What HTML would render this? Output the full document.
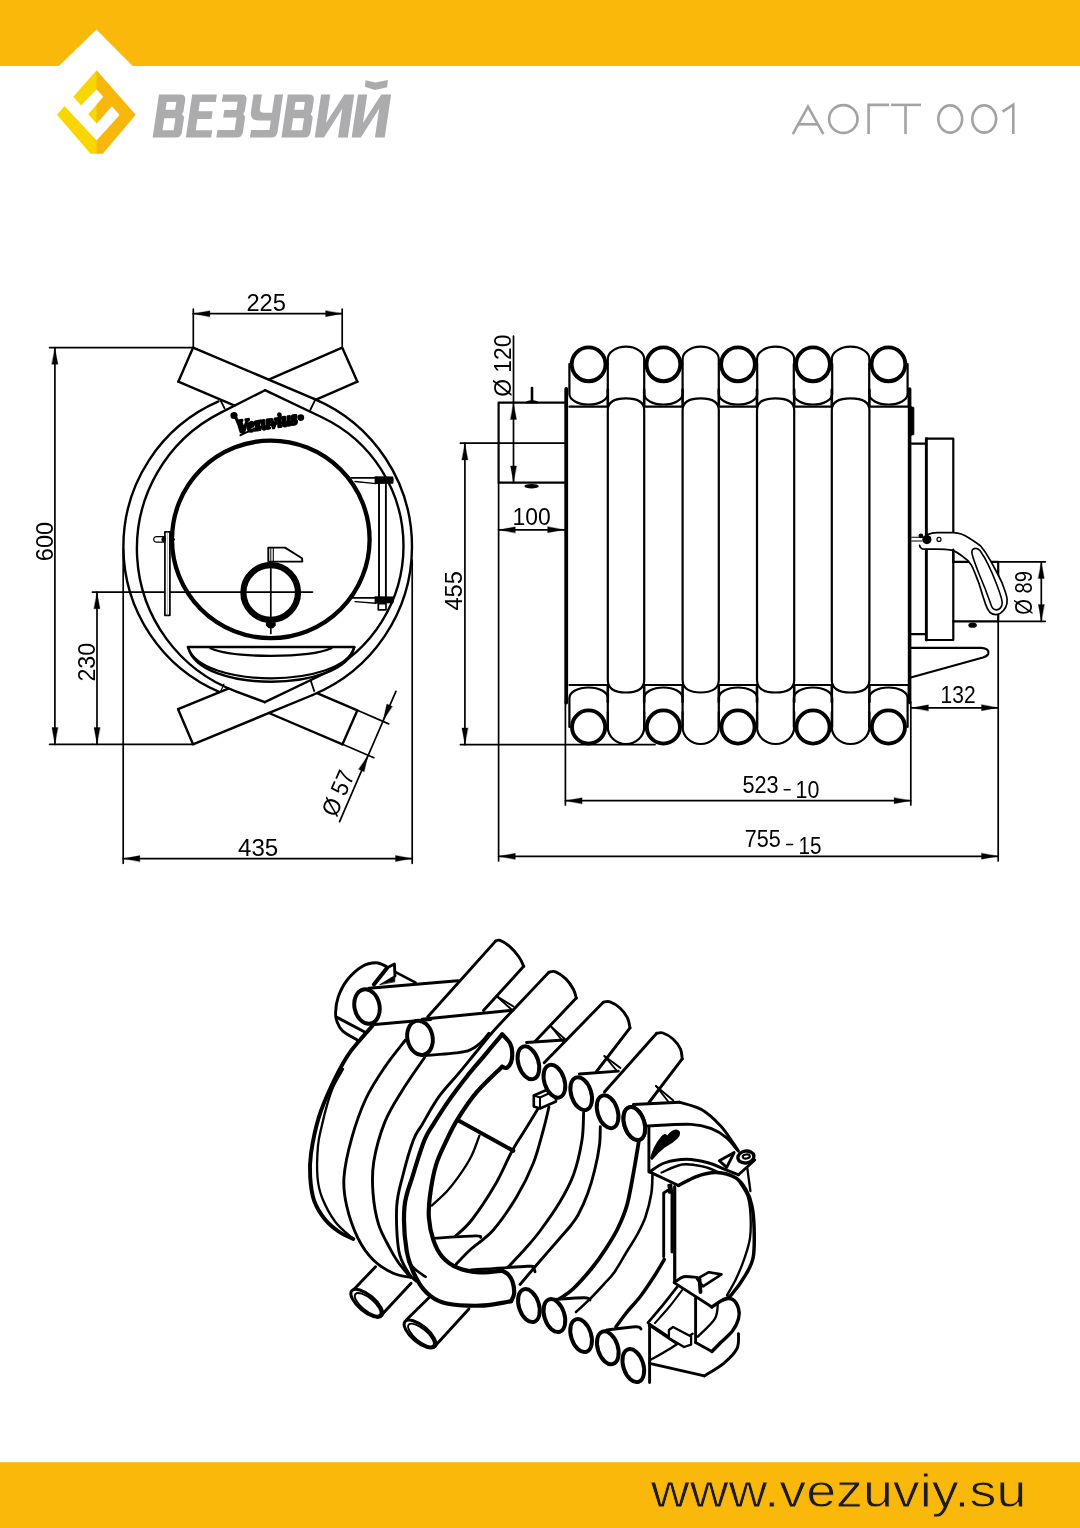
<!DOCTYPE html>
<html><head><meta charset="utf-8"><title>АОГТ 001</title>
<style>html,body{margin:0;padding:0;background:#fff;}body{width:1080px;height:1528px;overflow:hidden;position:relative;font-family:"Liberation Sans",sans-serif;}svg{position:absolute;left:0;top:0;display:block;}svg{will-change:transform}</style>
</head><body>
<svg width="1080" height="1528" viewBox="0 0 1080 1528" stroke-linecap="round" stroke-linejoin="round">
<rect x="0" y="0" width="1080" height="1528" fill="#fff"/>
<rect x="0" y="0" width="1080" height="66.0" fill="#FAB80B"/>
<path d="M58.40,66.50 L96.40,29.60 L133.20,66.50 Z" fill="#fff" stroke="none" />
<defs><clipPath id="cl"><rect x="40" y="60" width="57.1" height="100"/></clipPath><clipPath id="cr"><rect x="96.6" y="60" width="50" height="100"/></clipPath></defs>
<path d="M96.60,70.30 L135.75,114.70 L102.80,153.80 L90.50,153.80 L57.00,114.70 L64.50,105.90 L96.60,140.60 L119.50,115.10 L112.00,106.30 L96.60,123.50 L88.30,114.30 L103.20,96.70 L96.60,89.20 L81.20,105.50 L73.30,96.70 Z" fill="#FAD600" clip-path="url(#cl)"/>
<path d="M96.60,70.30 L135.75,114.70 L102.80,153.80 L90.50,153.80 L57.00,114.70 L64.50,105.90 L96.60,140.60 L119.50,115.10 L112.00,106.30 L96.60,123.50 L88.30,114.30 L103.20,96.70 L96.60,89.20 L81.20,105.50 L73.30,96.70 Z" fill="#F8B70A" clip-path="url(#cr)"/>
<path transform="translate(159.0,94.6) skewX(-8.43)" d="M0,0 H21.5 Q27.0,0 27.0,5.5 V17 L25.9,19.6 L28.5,22.4 V37.5 Q28.5,43.0 23.0,43.0 H0 Z M8.8,7.4 V15.2 H18.4 V7.4 Z M8.8,23.6 V35.6 H19.9 V23.6 Z" fill="#ACACAE" fill-rule="evenodd"/>
<path transform="translate(192.2,94.6) skewX(-8.43)" d="M0,0 H24.7 V7.4 H8.8 V16.6 H22.9 V24.4 H8.8 V35.6 H25.3 V43.0 H0 Z" fill="#ACACAE" fill-rule="evenodd"/>
<path transform="translate(223.0,94.6) skewX(-8.43)" d="M0,0 H18.8 Q24.3,0 24.3,5.5 V16.5 L23.1,19.4 L25.5,22.4 V37.5 Q25.5,43.0 20.0,43.0 H-0.3 V35.5 H16.9 V23.0 H3.6 V15.4 H15.700000000000001 V7.2 H0 Z" fill="#ACACAE" fill-rule="evenodd"/>
<path transform="translate(253.5,94.6) skewX(-8.43)" d="M0,0 H8.4 V13.5 Q8.4,18.2 13,18.2 H21.200000000000003 V0 H29.6 V37.5 Q29.6,43.0 24.1,43.0 H2.8 V35.4 H21.200000000000003 V26 H9.5 Q0,26 0,16.5 Z" fill="#ACACAE" fill-rule="evenodd"/>
<path transform="translate(287.8,94.6) skewX(-8.43)" d="M0,0 H21.3 Q26.8,0 26.8,5.5 V17 L25.7,19.6 L28.3,22.4 V37.5 Q28.3,43.0 22.8,43.0 H0 Z M8.8,7.4 V15.2 H18.200000000000003 V7.4 Z M8.8,23.6 V35.6 H19.700000000000003 V23.6 Z" fill="#ACACAE" fill-rule="evenodd"/>
<path transform="translate(321.1,94.6) skewX(-8.43)" d="M0,0 H9.2 V28.5 L23.3,0 H33.1 V43.0 H23.3 V14 L9.2,43.0 H0 Z" fill="#ACACAE" fill-rule="evenodd"/>
<path transform="translate(358.0,94.6) skewX(-8.43)" d="M0,0 H9.2 V28.5 L23.3,0 H33.1 V43.0 H23.3 V14 L9.2,43.0 H0 Z" fill="#ACACAE" fill-rule="evenodd"/>
<path d="M365.6,80.2 L375.5,82.6 L387.8,80.0 L387.2,87.2 L374.8,90.0 L364.8,86.8 Z" fill="#ACACAE"/>
<path d="M792.80,134.10 L808.00,106.60 L823.40,134.10" fill="none" stroke="#A3A3A3" stroke-width="2.6" stroke-linecap="butt" stroke-linejoin="miter"/>
<line x1="797.50" y1="124.30" x2="818.60" y2="124.30" stroke="#A3A3A3" stroke-width="2.6" stroke-linecap="butt" stroke-linejoin="miter"/>
<ellipse cx="843.30" cy="119.00" rx="14.20" ry="13.90" fill="none" stroke="#A3A3A3" stroke-width="2.6" />
<path d="M868.60,134.10 L868.60,104.90 L889.00,104.90" fill="none" stroke="#A3A3A3" stroke-width="2.6" stroke-linecap="butt" stroke-linejoin="miter"/>
<line x1="891.10" y1="104.90" x2="921.00" y2="104.90" stroke="#A3A3A3" stroke-width="2.6" stroke-linecap="butt" stroke-linejoin="miter"/>
<line x1="905.50" y1="104.90" x2="905.50" y2="134.10" stroke="#A3A3A3" stroke-width="2.6" stroke-linecap="butt" stroke-linejoin="miter"/>
<ellipse cx="950.20" cy="119.00" rx="11.90" ry="13.60" fill="none" stroke="#A3A3A3" stroke-width="2.6" />
<ellipse cx="984.20" cy="119.00" rx="11.90" ry="13.60" fill="none" stroke="#A3A3A3" stroke-width="2.6" />
<path d="M1002.60,111.60 L1013.30,104.60 L1013.30,134.10" fill="none" stroke="#A3A3A3" stroke-width="2.6" stroke-linecap="butt" stroke-linejoin="miter"/>
<rect x="0" y="1462.2" width="1080" height="66" fill="#FAB80B"/>
<text transform="translate(650.80,1507.00) rotate(0)" x="0" y="0" font-family="Liberation Sans" font-size="46.6" font-weight="normal" font-style="normal" text-anchor="start" fill="#1b1b20" textLength="375.50" lengthAdjust="spacingAndGlyphs" stroke="#FAB80B" stroke-width="0.8">www.vezuviy.su</text>
<path d="M357.40,381.70 L342.20,347.60 L268.69,379.59" fill="none" stroke="#000" stroke-width="2.4" />
<line x1="357.40" y1="381.70" x2="316.10" y2="399.67" stroke="#000" stroke-width="2.4" />
<path d="M178.30,381.70 L193.10,347.60 L314.06,398.79" fill="none" stroke="#000" stroke-width="2.4" />
<line x1="178.30" y1="381.70" x2="234.70" y2="405.57" stroke="#000" stroke-width="2.4" />
<path d="M342.50,744.30 L357.40,710.30 L317.00,693.12" fill="none" stroke="#000" stroke-width="2.4" />
<line x1="342.50" y1="744.30" x2="268.92" y2="713.01" stroke="#000" stroke-width="2.4" />
<path d="M178.10,709.20 L193.00,744.30 L312.65,694.99" fill="none" stroke="#000" stroke-width="2.4" />
<line x1="178.10" y1="709.20" x2="228.29" y2="688.52" stroke="#000" stroke-width="2.4" />
<path d="M314.06,398.79 A160.50,160.50 0 0 1 312.65,694.99" fill="none" stroke="#000" stroke-width="2.4" />
<path d="M218.48,401.44 A158.20,158.20 0 0 0 219.70,692.09" fill="none" stroke="#000" stroke-width="2.4" />
<path d="M265.00,390.20 L322.38,417.52 A142.30,142.30 0 0 1 322.93,674.21 L264.80,702.20" fill="none" stroke="#000" stroke-width="2.4" />
<path d="M265.00,390.20 L220.30,412.88 A152.30,152.30 0 0 0 235.75,691.31 L264.80,702.20" fill="none" stroke="#000" stroke-width="2.4" />
<line x1="220.70" y1="400.60" x2="224.60" y2="408.30" stroke="#000" stroke-width="1.8" />
<line x1="315.40" y1="399.40" x2="309.80" y2="411.00" stroke="#000" stroke-width="1.8" />
<line x1="221.00" y1="690.80" x2="223.90" y2="684.00" stroke="#000" stroke-width="1.2" />
<line x1="314.20" y1="691.00" x2="310.80" y2="680.80" stroke="#000" stroke-width="1.8" />
<circle cx="270.80" cy="539.40" r="98.80" fill="none" stroke="#000" stroke-width="4.3"/>
<circle cx="270.70" cy="592.50" r="27.30" fill="none" stroke="#000" stroke-width="6.2"/>
<line x1="92.40" y1="592.10" x2="312.50" y2="592.10" stroke="#000" stroke-width="1.7" />
<line x1="270.80" y1="547.50" x2="270.80" y2="633.50" stroke="#000" stroke-width="1.7" />
<path d="M268.30,547.60 L285.00,547.60 L302.00,558.20 L302.30,561.60 L268.30,561.60 Z" fill="#fff" stroke="#000" stroke-width="1.9" />
<line x1="273.30" y1="547.60" x2="273.30" y2="561.60" stroke="#000" stroke-width="1.1" />
<line x1="270.80" y1="547.60" x2="270.80" y2="561.60" stroke="#000" stroke-width="1.0" />
<path d="M266.0,622.3 L275.6,622.3 L275.8,625.5 L273.0,628.3 L268.6,628.3 L265.8,625.5 Z" fill="#000" stroke="none" />
<path d="M164.9,531.9 L169.9,531.9 L169.9,615.3 L164.9,615.3 Z" fill="#fff" stroke="#000" stroke-width="1.7" />
<line x1="167.40" y1="532.00" x2="167.40" y2="615.00" stroke="#888" stroke-width="0.6" />
<path d="M156.5,536.6 a2.8,2.8 0 1 0 0,5.6 L164.9,542.2 L164.9,536.6 Z" fill="#fff" stroke="#000" stroke-width="1.2" />
<ellipse cx="163.6" cy="539.4" rx="2.2" ry="2.6" fill="#000"/>
<ellipse cx="172.5" cy="539.4" rx="2.6" ry="1.3" fill="#000"/>
<line x1="351.50" y1="477.90" x2="376.00" y2="477.90" stroke="#000" stroke-width="1.8" />
<path d="M374.6,476.3 L393.2,476.6 Q394.2,480.2 393.2,483.8 L374.6,484.1 Z" fill="#000" stroke="none" />
<path d="M355,481.5 L376,483.6" fill="none" stroke="#000" stroke-width="1.4" />
<line x1="351.50" y1="597.90" x2="376.00" y2="597.90" stroke="#000" stroke-width="1.8" />
<path d="M374.6,596.2 L393.4,596.5 Q394.4,599.9 393.4,603.3 L374.6,603.6 Z" fill="#000" stroke="none" />
<path d="M355,601.6 L376,603.2" fill="none" stroke="#000" stroke-width="1.4" />
<line x1="379.00" y1="484.00" x2="379.00" y2="596.70" stroke="#000" stroke-width="1.9" />
<line x1="385.90" y1="484.00" x2="385.90" y2="596.70" stroke="#000" stroke-width="1.9" />
<path d="M378.3,603.6 L386,603.6 L386,609.8 L378.3,609.8 Z" fill="#fff" stroke="#000" stroke-width="1.7" />
<path d="M187.9,647.0 L354.2,647.0" fill="none" stroke="#000" stroke-width="2.6" />
<path d="M210.6,648.3 C232,658.3 309,658.3 331.3,648.3" fill="none" stroke="#000" stroke-width="2.3" />
<path d="M188.2,647.4 C200,688.6 342,688.6 354.2,647.4" fill="none" stroke="#000" stroke-width="2.2" />
<path d="M188.2,647.4 C199,693.2 343,693.2 354.2,647.4" fill="none" stroke="#000" stroke-width="2.4" />
<text transform="translate(268.50,428.50) rotate(-9)" x="0" y="0" font-family="Liberation Serif" font-size="19" font-weight="bold" font-style="italic" text-anchor="middle" fill="#000" textLength="60.00" lengthAdjust="spacingAndGlyphs" stroke="#000" stroke-width="2.6" stroke-linejoin="round">Vezuvius</text>
<circle cx="234.00" cy="415.50" r="3.60" fill="#000" />
<circle cx="300.80" cy="417.60" r="3.40" fill="#000" />
<path d="M240.5,435.2 Q262,424.5 292,421.2" fill="none" stroke="#000" stroke-width="2.0" />
<path d="M236,418 Q239,424 241,432" fill="none" stroke="#000" stroke-width="3.0" />
<line x1="193.30" y1="309.00" x2="193.30" y2="347.60" stroke="#000" stroke-width="1.7" />
<line x1="342.20" y1="309.00" x2="342.20" y2="347.60" stroke="#000" stroke-width="1.7" />
<line x1="193.30" y1="313.70" x2="342.20" y2="313.70" stroke="#000" stroke-width="1.7" />
<path d="M193.60,313.70 L209.90,310.70 L209.90,316.70 Z" fill="#000" stroke="#000" stroke-width="0.3" />
<path d="M341.90,313.70 L325.60,316.70 L325.60,310.70 Z" fill="#000" stroke="#000" stroke-width="0.3" />
<text transform="translate(246.40,311.00) rotate(0)" x="0" y="0" font-family="Liberation Sans" font-size="24.3" font-weight="normal" font-style="normal" text-anchor="start" fill="#000" textLength="39.60" lengthAdjust="spacingAndGlyphs" >225</text>
<line x1="49.60" y1="347.60" x2="193.10" y2="347.60" stroke="#000" stroke-width="1.7" />
<line x1="49.60" y1="744.30" x2="193.00" y2="744.30" stroke="#000" stroke-width="1.7" />
<line x1="54.90" y1="347.60" x2="54.90" y2="744.30" stroke="#000" stroke-width="1.7" />
<path d="M54.90,348.00 L57.90,364.30 L51.90,364.30 Z" fill="#000" stroke="#000" stroke-width="0.3" />
<path d="M54.90,743.90 L51.90,727.60 L57.90,727.60 Z" fill="#000" stroke="#000" stroke-width="0.3" />
<text transform="translate(52.60,561.20) rotate(-90)" x="0" y="0" font-family="Liberation Sans" font-size="24.3" font-weight="normal" font-style="normal" text-anchor="start" fill="#000" textLength="39.40" lengthAdjust="spacingAndGlyphs" >600</text>
<line x1="92.40" y1="744.30" x2="92.40" y2="744.30" stroke="#000" stroke-width="1.7" />
<line x1="97.00" y1="592.10" x2="97.00" y2="744.30" stroke="#000" stroke-width="1.7" />
<path d="M97.00,592.50 L100.00,608.80 L94.00,608.80 Z" fill="#000" stroke="#000" stroke-width="0.3" />
<path d="M97.00,743.90 L94.00,727.60 L100.00,727.60 Z" fill="#000" stroke="#000" stroke-width="0.3" />
<text transform="translate(95.10,681.60) rotate(-90)" x="0" y="0" font-family="Liberation Sans" font-size="24.3" font-weight="normal" font-style="normal" text-anchor="start" fill="#000" textLength="38.80" lengthAdjust="spacingAndGlyphs" >230</text>
<line x1="123.20" y1="549.00" x2="123.20" y2="863.30" stroke="#000" stroke-width="1.7" />
<line x1="412.20" y1="560.00" x2="412.20" y2="863.30" stroke="#000" stroke-width="1.7" />
<line x1="123.20" y1="858.60" x2="412.20" y2="858.60" stroke="#000" stroke-width="1.7" />
<path d="M123.60,858.60 L139.90,855.60 L139.90,861.60 Z" fill="#000" stroke="#000" stroke-width="0.3" />
<path d="M411.80,858.60 L395.50,861.60 L395.50,855.60 Z" fill="#000" stroke="#000" stroke-width="0.3" />
<text transform="translate(238.00,856.20) rotate(0)" x="0" y="0" font-family="Liberation Sans" font-size="24.3" font-weight="normal" font-style="normal" text-anchor="start" fill="#000" textLength="40.20" lengthAdjust="spacingAndGlyphs" >435</text>
<line x1="357.40" y1="710.30" x2="388.70" y2="723.90" stroke="#000" stroke-width="1.7" />
<line x1="342.50" y1="744.30" x2="373.90" y2="757.70" stroke="#000" stroke-width="1.7" />
<line x1="395.90" y1="691.30" x2="339.60" y2="821.60" stroke="#000" stroke-width="1.7" />
<path d="M383.10,720.20 L386.81,704.05 L392.32,706.43 Z" fill="#000" stroke="#000" stroke-width="0.3" />
<path d="M367.90,755.60 L364.19,771.75 L358.68,769.37 Z" fill="#000" stroke="#000" stroke-width="0.3" />
<text transform="translate(345.60,796.50) rotate(-66.6318017537942)" x="0" y="0" font-family="Liberation Sans" font-size="24.3" font-weight="normal" font-style="normal" text-anchor="middle" fill="#000" textLength="47.00" lengthAdjust="spacingAndGlyphs" >Ø 57</text>
<line x1="569.40" y1="406.70" x2="607.80" y2="406.70" stroke="#000" stroke-width="2.2" />
<line x1="569.40" y1="685.00" x2="607.80" y2="685.00" stroke="#000" stroke-width="2.2" />
<line x1="644.20" y1="406.70" x2="682.60" y2="406.70" stroke="#000" stroke-width="2.2" />
<line x1="644.20" y1="685.00" x2="682.60" y2="685.00" stroke="#000" stroke-width="2.2" />
<line x1="718.80" y1="406.70" x2="757.20" y2="406.70" stroke="#000" stroke-width="2.2" />
<line x1="718.80" y1="685.00" x2="757.20" y2="685.00" stroke="#000" stroke-width="2.2" />
<line x1="793.80" y1="406.70" x2="832.20" y2="406.70" stroke="#000" stroke-width="2.2" />
<line x1="793.80" y1="685.00" x2="832.20" y2="685.00" stroke="#000" stroke-width="2.2" />
<line x1="869.20" y1="406.70" x2="907.60" y2="406.70" stroke="#000" stroke-width="2.2" />
<line x1="869.20" y1="685.00" x2="907.60" y2="685.00" stroke="#000" stroke-width="2.2" />
<path d="M569.40,364 L569.40,394 A19.20,10.5 0 0 0 607.80,394 L607.80,364" fill="none" stroke="#000" stroke-width="2.2" />
<circle cx="588.60" cy="364.30" r="16.90" fill="#fff" stroke="#000" stroke-width="3.9"/>
<path d="M569.40,727 L569.40,698 A19.20,10.5 0 0 1 607.80,698 L607.80,727" fill="none" stroke="#000" stroke-width="2.2" />
<circle cx="588.60" cy="727.00" r="16.60" fill="#fff" stroke="#000" stroke-width="3.9"/>
<path d="M644.20,364 L644.20,394 A19.20,10.5 0 0 0 682.60,394 L682.60,364" fill="none" stroke="#000" stroke-width="2.2" />
<circle cx="663.40" cy="364.30" r="16.90" fill="#fff" stroke="#000" stroke-width="3.9"/>
<path d="M644.20,727 L644.20,698 A19.20,10.5 0 0 1 682.60,698 L682.60,727" fill="none" stroke="#000" stroke-width="2.2" />
<circle cx="663.40" cy="727.00" r="16.60" fill="#fff" stroke="#000" stroke-width="3.9"/>
<path d="M718.80,364 L718.80,394 A19.20,10.5 0 0 0 757.20,394 L757.20,364" fill="none" stroke="#000" stroke-width="2.2" />
<circle cx="738.00" cy="364.30" r="16.90" fill="#fff" stroke="#000" stroke-width="3.9"/>
<path d="M718.80,727 L718.80,698 A19.20,10.5 0 0 1 757.20,698 L757.20,727" fill="none" stroke="#000" stroke-width="2.2" />
<circle cx="738.00" cy="727.00" r="16.60" fill="#fff" stroke="#000" stroke-width="3.9"/>
<path d="M793.80,364 L793.80,394 A19.20,10.5 0 0 0 832.20,394 L832.20,364" fill="none" stroke="#000" stroke-width="2.2" />
<circle cx="813.00" cy="364.30" r="16.90" fill="#fff" stroke="#000" stroke-width="3.9"/>
<path d="M793.80,727 L793.80,698 A19.20,10.5 0 0 1 832.20,698 L832.20,727" fill="none" stroke="#000" stroke-width="2.2" />
<circle cx="813.00" cy="727.00" r="16.60" fill="#fff" stroke="#000" stroke-width="3.9"/>
<path d="M869.20,364 L869.20,394 A19.20,10.5 0 0 0 907.60,394 L907.60,364" fill="none" stroke="#000" stroke-width="2.2" />
<circle cx="888.40" cy="364.30" r="16.90" fill="#fff" stroke="#000" stroke-width="3.9"/>
<path d="M869.20,727 L869.20,698 A19.20,10.5 0 0 1 907.60,698 L907.60,727" fill="none" stroke="#000" stroke-width="2.2" />
<circle cx="888.40" cy="727.00" r="16.60" fill="#fff" stroke="#000" stroke-width="3.9"/>
<path d="M607.80,364 L607.80,359 A18.20,12.3 0 0 1 644.20,359 L644.20,364" fill="none" stroke="#000" stroke-width="2.2" />
<path d="M607.80,680 L607.80,410 C607.80,401 615.80,398.3 626.00,398.3 C636.20,398.3 644.20,401 644.20,410 L644.20,680 C644.20,689 636.20,692.5 626.00,692.5 C615.80,692.5 607.80,689 607.80,680" fill="none" stroke="#000" stroke-width="2.2" />
<path d="M607.80,712 L607.80,727 A18.20,17 0 0 0 644.20,727 L644.20,712" fill="none" stroke="#000" stroke-width="2.2" />
<path d="M682.60,364 L682.60,359 A18.10,12.3 0 0 1 718.80,359 L718.80,364" fill="none" stroke="#000" stroke-width="2.2" />
<path d="M682.60,680 L682.60,410 C682.60,401 690.60,398.3 700.70,398.3 C710.80,398.3 718.80,401 718.80,410 L718.80,680 C718.80,689 710.80,692.5 700.70,692.5 C690.60,692.5 682.60,689 682.60,680" fill="none" stroke="#000" stroke-width="2.2" />
<path d="M682.60,712 L682.60,727 A18.10,17 0 0 0 718.80,727 L718.80,712" fill="none" stroke="#000" stroke-width="2.2" />
<path d="M757.00,364 L757.00,359 A18.60,12.3 0 0 1 794.20,359 L794.20,364" fill="none" stroke="#000" stroke-width="2.2" />
<path d="M757.00,680 L757.00,410 C757.00,401 765.00,398.3 775.60,398.3 C786.20,398.3 794.20,401 794.20,410 L794.20,680 C794.20,689 786.20,692.5 775.60,692.5 C765.00,692.5 757.00,689 757.00,680" fill="none" stroke="#000" stroke-width="2.2" />
<path d="M757.00,712 L757.00,727 A18.60,17 0 0 0 794.20,727 L794.20,712" fill="none" stroke="#000" stroke-width="2.2" />
<path d="M831.80,364 L831.80,359 A18.80,12.3 0 0 1 869.40,359 L869.40,364" fill="none" stroke="#000" stroke-width="2.2" />
<path d="M831.80,680 L831.80,410 C831.80,401 839.80,398.3 850.60,398.3 C861.40,398.3 869.40,401 869.40,410 L869.40,680 C869.40,689 861.40,692.5 850.60,692.5 C839.80,692.5 831.80,689 831.80,680" fill="none" stroke="#000" stroke-width="2.2" />
<path d="M831.80,712 L831.80,727 A18.80,17 0 0 0 869.40,727 L869.40,712" fill="none" stroke="#000" stroke-width="2.2" />
<line x1="566.50" y1="389.50" x2="566.50" y2="406.00" stroke="#000" stroke-width="2.6" />
<line x1="566.50" y1="686.00" x2="566.50" y2="702.00" stroke="#000" stroke-width="2.6" />
<line x1="607.80" y1="389.50" x2="607.80" y2="406.00" stroke="#000" stroke-width="2.6" />
<line x1="607.80" y1="686.00" x2="607.80" y2="702.00" stroke="#000" stroke-width="2.6" />
<line x1="644.20" y1="389.50" x2="644.20" y2="406.00" stroke="#000" stroke-width="2.6" />
<line x1="644.20" y1="686.00" x2="644.20" y2="702.00" stroke="#000" stroke-width="2.6" />
<line x1="682.60" y1="389.50" x2="682.60" y2="406.00" stroke="#000" stroke-width="2.6" />
<line x1="682.60" y1="686.00" x2="682.60" y2="702.00" stroke="#000" stroke-width="2.6" />
<line x1="718.80" y1="389.50" x2="718.80" y2="406.00" stroke="#000" stroke-width="2.6" />
<line x1="718.80" y1="686.00" x2="718.80" y2="702.00" stroke="#000" stroke-width="2.6" />
<line x1="757.00" y1="389.50" x2="757.00" y2="406.00" stroke="#000" stroke-width="2.6" />
<line x1="757.00" y1="686.00" x2="757.00" y2="702.00" stroke="#000" stroke-width="2.6" />
<line x1="794.20" y1="389.50" x2="794.20" y2="406.00" stroke="#000" stroke-width="2.6" />
<line x1="794.20" y1="686.00" x2="794.20" y2="702.00" stroke="#000" stroke-width="2.6" />
<line x1="831.80" y1="389.50" x2="831.80" y2="406.00" stroke="#000" stroke-width="2.6" />
<line x1="831.80" y1="686.00" x2="831.80" y2="702.00" stroke="#000" stroke-width="2.6" />
<line x1="869.40" y1="389.50" x2="869.40" y2="406.00" stroke="#000" stroke-width="2.6" />
<line x1="869.40" y1="686.00" x2="869.40" y2="702.00" stroke="#000" stroke-width="2.6" />
<line x1="909.00" y1="389.50" x2="909.00" y2="406.00" stroke="#000" stroke-width="2.6" />
<line x1="909.00" y1="686.00" x2="909.00" y2="702.00" stroke="#000" stroke-width="2.6" />
<line x1="566.20" y1="389.00" x2="566.20" y2="702.50" stroke="#000" stroke-width="3.8" />
<line x1="909.60" y1="389.00" x2="909.60" y2="702.50" stroke="#000" stroke-width="3.6" />
<path d="M910.5,406.5 L913.9,407.5 L913.9,434.5 L910.5,435.5 Z" fill="#000" stroke="#000" stroke-width="0.8" />
<path d="M564.3,402.7 L498.6,402.7 L498.6,482.7 L564.3,482.7" fill="none" stroke="#000" stroke-width="2.2" />
<line x1="498.60" y1="443.20" x2="564.30" y2="443.20" stroke="#000" stroke-width="1.8" />
<line x1="532.00" y1="388.00" x2="532.00" y2="401.00" stroke="#000" stroke-width="2.6" />
<path d="M524.8,403.2 Q526,400.2 532,400.2 Q538,400.2 539.2,403.2 Z" fill="#000" stroke="none" />
<ellipse cx="531.6" cy="486.2" rx="7.2" ry="2.3" fill="#000"/>
<line x1="513.50" y1="336.00" x2="513.50" y2="482.70" stroke="#000" stroke-width="1.7" />
<path d="M513.50,403.20 L516.50,419.50 L510.50,419.50 Z" fill="#000" stroke="#000" stroke-width="0.3" />
<path d="M513.50,482.20 L510.50,465.90 L516.50,465.90 Z" fill="#000" stroke="#000" stroke-width="0.3" />
<text transform="translate(510.60,396.80) rotate(-90)" x="0" y="0" font-family="Liberation Sans" font-size="24.6" font-weight="normal" font-style="normal" text-anchor="start" fill="#000" textLength="62.20" lengthAdjust="spacingAndGlyphs" >Ø 120</text>
<line x1="498.60" y1="482.70" x2="498.60" y2="861.00" stroke="#000" stroke-width="1.7" />
<line x1="498.60" y1="529.80" x2="564.30" y2="529.80" stroke="#000" stroke-width="1.7" />
<path d="M499.00,529.80 L515.30,526.80 L515.30,532.80 Z" fill="#000" stroke="#000" stroke-width="0.3" />
<path d="M563.90,529.80 L547.60,532.80 L547.60,526.80 Z" fill="#000" stroke="#000" stroke-width="0.3" />
<text transform="translate(512.60,525.30) rotate(0)" x="0" y="0" font-family="Liberation Sans" font-size="24.3" font-weight="normal" font-style="normal" text-anchor="start" fill="#000" textLength="38.20" lengthAdjust="spacingAndGlyphs" >100</text>
<line x1="460.40" y1="443.20" x2="498.60" y2="443.20" stroke="#000" stroke-width="1.7" />
<line x1="460.40" y1="744.60" x2="655.00" y2="744.60" stroke="#000" stroke-width="1.7" />
<line x1="464.90" y1="443.20" x2="464.90" y2="744.60" stroke="#000" stroke-width="1.7" />
<path d="M464.90,443.60 L467.90,459.90 L461.90,459.90 Z" fill="#000" stroke="#000" stroke-width="0.3" />
<path d="M464.90,744.20 L461.90,727.90 L467.90,727.90 Z" fill="#000" stroke="#000" stroke-width="0.3" />
<text transform="translate(462.20,610.60) rotate(-90)" x="0" y="0" font-family="Liberation Sans" font-size="24.3" font-weight="normal" font-style="normal" text-anchor="start" fill="#000" textLength="39.40" lengthAdjust="spacingAndGlyphs" >455</text>
<line x1="565.40" y1="702.00" x2="565.40" y2="805.00" stroke="#000" stroke-width="1.7" />
<line x1="910.80" y1="702.00" x2="910.80" y2="805.00" stroke="#000" stroke-width="1.7" />
<line x1="565.40" y1="800.70" x2="910.80" y2="800.70" stroke="#000" stroke-width="1.7" />
<path d="M565.80,800.70 L582.10,797.70 L582.10,803.70 Z" fill="#000" stroke="#000" stroke-width="0.3" />
<path d="M910.40,800.70 L894.10,803.70 L894.10,797.70 Z" fill="#000" stroke="#000" stroke-width="0.3" />
<text transform="translate(742.40,792.60) rotate(0)" x="0" y="0" font-family="Liberation Sans" font-size="24.3" font-weight="normal" font-style="normal" text-anchor="start" fill="#000" textLength="36.20" lengthAdjust="spacingAndGlyphs" >523</text>
<line x1="784.20" y1="789.80" x2="790.20" y2="789.80" stroke="#000" stroke-width="1.5" />
<text transform="translate(795.60,797.70) rotate(0)" x="0" y="0" font-family="Liberation Sans" font-size="24.3" font-weight="normal" font-style="normal" text-anchor="start" fill="#000" textLength="23.80" lengthAdjust="spacingAndGlyphs" >10</text>
<line x1="998.20" y1="621.30" x2="998.20" y2="861.00" stroke="#000" stroke-width="1.7" />
<line x1="498.60" y1="856.30" x2="998.20" y2="856.30" stroke="#000" stroke-width="1.7" />
<path d="M499.00,856.30 L515.30,853.30 L515.30,859.30 Z" fill="#000" stroke="#000" stroke-width="0.3" />
<path d="M997.80,856.30 L981.50,859.30 L981.50,853.30 Z" fill="#000" stroke="#000" stroke-width="0.3" />
<text transform="translate(744.80,847.20) rotate(0)" x="0" y="0" font-family="Liberation Sans" font-size="24.3" font-weight="normal" font-style="normal" text-anchor="start" fill="#000" textLength="36.00" lengthAdjust="spacingAndGlyphs" >755</text>
<line x1="786.60" y1="844.50" x2="792.60" y2="844.50" stroke="#000" stroke-width="1.5" />
<text transform="translate(798.60,853.80) rotate(0)" x="0" y="0" font-family="Liberation Sans" font-size="24.3" font-weight="normal" font-style="normal" text-anchor="start" fill="#000" textLength="23.00" lengthAdjust="spacingAndGlyphs" >15</text>
<line x1="911.70" y1="707.80" x2="998.20" y2="707.80" stroke="#000" stroke-width="1.7" />
<path d="M912.10,707.80 L928.40,704.80 L928.40,710.80 Z" fill="#000" stroke="#000" stroke-width="0.3" />
<path d="M997.80,707.80 L981.50,710.80 L981.50,704.80 Z" fill="#000" stroke="#000" stroke-width="0.3" />
<text transform="translate(940.60,703.00) rotate(0)" x="0" y="0" font-family="Liberation Sans" font-size="24.3" font-weight="normal" font-style="normal" text-anchor="start" fill="#000" textLength="35.00" lengthAdjust="spacingAndGlyphs" >132</text>
<path d="M911.7,443.6 L925.4,443.6 M911.7,634.1 L925.4,634.1" fill="none" stroke="#000" stroke-width="2.2" />
<path d="M926.0,438.7 L953.3,438.7 L953.3,640.0 L926.0,640.0 Z" fill="#fff" stroke="#000" stroke-width="2.2" />
<line x1="926.40" y1="438.70" x2="926.40" y2="640.00" stroke="#000" stroke-width="2.8" />
<path d="M953.3,561.8 L998.2,561.8 L998.2,621.3 L953.3,621.3" fill="none" stroke="#000" stroke-width="2.2" />
<line x1="998.20" y1="561.80" x2="1045.30" y2="561.80" stroke="#000" stroke-width="1.7" />
<line x1="998.20" y1="621.30" x2="1045.30" y2="621.30" stroke="#000" stroke-width="1.7" />
<line x1="1041.30" y1="561.80" x2="1041.30" y2="621.30" stroke="#000" stroke-width="1.7" />
<path d="M1041.30,562.20 L1044.30,578.50 L1038.30,578.50 Z" fill="#000" stroke="#000" stroke-width="0.3" />
<path d="M1041.30,620.90 L1038.30,604.60 L1044.30,604.60 Z" fill="#000" stroke="#000" stroke-width="0.3" />
<text transform="translate(1031.50,614.80) rotate(-90)" x="0" y="0" font-family="Liberation Sans" font-size="24.6" font-weight="normal" font-style="normal" text-anchor="start" fill="#000" textLength="43.80" lengthAdjust="spacingAndGlyphs" >Ø 89</text>
<ellipse cx="972.6" cy="625.2" rx="4.2" ry="2.6" fill="#000"/>
<path d="M911.7,647.9 L981.4,647.9 Q989.5,648.5 988.3,653.8 Q987.5,656 983,657.5 L911.7,677.3" fill="none" stroke="#000" stroke-width="2.2" />
<path d="M927.4,534.6 C931,533 934,532.6 937.1,532.6 L953.6,532.6 C960,532.8 964,534.6 968.2,537.5 C973,540.5 977,543 980.8,546.2 C985,551 988,556 990.6,560.8 C995,569 999,576 1002.2,583.2 C1004.5,590 1007,595 1007.1,599.7 C1007.5,606 1005,610 1000,613.6 C997,615 993,614.8 990,612.5 C987.8,610 986.5,607.5 985.7,604.6 C983,597 981,590 978.9,583.2 C976,576 974,570 971.1,564.7 C968,560 966,558.5 963.3,556.9 C959,553.5 955,551.2 951.7,550.1 C946,549.2 942,549.2 937.1,549.2 L924.4,549.2 C921.5,549 920,547.5 919.6,545.3" fill="#fff" stroke="#000" stroke-width="1.7" />
<path d="M973,549.2 C975,548 978,548.5 980,550.5 C986,559 992,572 996.5,584 C999.5,592 1002,598 1002.2,602.6 C1002.3,607 999.5,609.8 996.4,609.9 C993.5,609.9 991.5,607 990.6,603.6 C987,593 983,583 978.9,573.5 C976,566 973.5,560 972.1,554 C971.6,551.5 972,550 973,549.2 Z" fill="none" stroke="#000" stroke-width="1.6" />
<circle cx="926.90" cy="539.60" r="4.60" fill="#000" />
<circle cx="920.90" cy="535.80" r="2.40" fill="#000" />
<path d="M911.7,537.2 L925,537.2 M911.7,541.0 L922,541.0" fill="none" stroke="#000" stroke-width="1.1" />
<circle cx="939.00" cy="539.40" r="2.00" fill="none" stroke="#000" stroke-width="1.2"/>
<line x1="953.30" y1="549.50" x2="953.30" y2="561.80" stroke="#000" stroke-width="2.2" />
<path d="M372.50,1025.80 C370.42,1028.17 364.23,1034.88 360.00,1040.00 C355.77,1045.12 351.87,1048.83 347.10,1056.50 C342.33,1064.17 336.12,1075.85 331.40,1086.00 C326.68,1096.15 322.20,1106.15 318.80,1117.40 C315.40,1128.65 312.43,1143.57 311.00,1153.50 C309.57,1163.43 309.68,1169.15 310.20,1177.00 C310.72,1184.85 311.62,1193.52 314.10,1200.60 C316.58,1207.68 320.90,1214.27 325.10,1219.50 C329.30,1224.73 334.60,1228.77 339.30,1232.00 C344.00,1235.23 350.97,1237.75 353.30,1238.90" fill="none" stroke="#000" stroke-width="3.92" />
<path d="M343.00,1069.00 C341.38,1071.95 335.88,1080.98 333.30,1086.70 C330.72,1092.42 329.38,1096.92 327.50,1103.30 C325.62,1109.68 323.58,1117.95 322.00,1125.00 C320.42,1132.05 318.75,1136.93 318.00,1145.60 C317.25,1154.27 316.80,1168.27 317.50,1177.00 C318.20,1185.73 319.18,1190.47 322.20,1198.00 C325.22,1205.53 330.42,1215.38 335.60,1222.20 C340.78,1229.02 350.35,1236.12 353.30,1238.90" fill="none" stroke="#000" stroke-width="2.32" />
<path d="M405.50,1040.00 C402.05,1044.52 391.38,1057.35 384.80,1067.10 C378.22,1076.85 371.50,1086.72 366.00,1098.50 C360.50,1110.28 355.47,1124.72 351.80,1137.80 C348.13,1150.88 344.85,1165.63 344.00,1177.00 C343.15,1188.37 344.40,1195.87 346.70,1206.00 C349.00,1216.13 353.37,1228.80 357.80,1237.80 C362.23,1246.80 367.38,1254.08 373.30,1260.00 C379.22,1265.92 387.00,1270.38 393.30,1273.30 C399.60,1276.22 408.13,1276.80 411.10,1277.50" fill="none" stroke="#000" stroke-width="2.9" />
<path d="M424.40,1057.80 C420.68,1063.28 408.70,1079.98 402.10,1090.70 C395.50,1101.42 389.52,1110.32 384.80,1122.10 C380.08,1133.88 375.77,1149.62 373.80,1161.40 C371.83,1173.18 372.22,1182.33 373.00,1192.80 C373.78,1203.27 375.75,1215.05 378.50,1224.20 C381.25,1233.35 386.25,1241.40 389.50,1247.70 C392.75,1254.00 394.58,1257.15 398.00,1262.00 C401.42,1266.85 408.00,1274.33 410.00,1276.80" fill="none" stroke="#000" stroke-width="2.9" />
<path d="M386.50,966.50 C384.77,965.88 380.23,962.77 376.10,962.80 C371.97,962.83 366.52,963.83 361.70,966.70 C356.88,969.57 351.10,975.00 347.20,980.00 C343.30,985.00 340.23,991.33 338.30,996.70 C336.37,1002.07 335.78,1007.95 335.60,1012.20 C335.42,1016.45 336.00,1019.05 337.20,1022.20 C338.40,1025.35 339.47,1028.13 342.80,1031.10 C346.13,1034.07 354.80,1038.52 357.20,1040.00" fill="none" stroke="#000" stroke-width="2.9" />
<line x1="337.00" y1="1017.40" x2="365.20" y2="1032.20" stroke="#000" stroke-width="2.9" />
<line x1="373.90" y1="984.40" x2="387.20" y2="967.80" stroke="#000" stroke-width="4.06" />
<path d="M387.20,967.80 L394.40,963.90 L395.00,976.10" fill="none" stroke="#000" stroke-width="2.9" />
<path d="M380.00,984.50 L394.80,975.50 L394.80,981.50 Z" fill="#000" stroke="#000" stroke-width="0.7" />
<line x1="395.60" y1="972.20" x2="415.60" y2="982.60" stroke="#000" stroke-width="2.61" />
<line x1="458.50" y1="1120.50" x2="513.30" y2="1150.80" stroke="#000" stroke-width="4.06" />
<path d="M479.40,1135.60 C478.12,1138.93 474.65,1149.50 471.70,1155.60 C468.75,1161.70 465.78,1166.28 461.70,1172.20 C457.62,1178.12 452.20,1185.53 447.20,1191.10 C442.20,1196.67 434.28,1203.18 431.70,1205.60" fill="none" stroke="#000" stroke-width="2.32" />
<path d="M538.30,1108.30 C536.08,1111.92 529.43,1122.77 525.00,1130.00 C520.57,1137.23 516.70,1142.53 511.70,1151.70 C506.70,1160.87 501.67,1173.62 495.00,1185.00 C488.33,1196.38 478.27,1211.50 471.70,1220.00 C465.13,1228.50 458.28,1233.33 455.60,1236.00" fill="none" stroke="#000" stroke-width="2.9" />
<path d="M548.90,1107.20 C547.97,1111.00 545.90,1120.65 543.30,1130.00 C540.70,1139.35 537.73,1152.18 533.30,1163.30 C528.87,1174.42 523.37,1185.58 516.70,1196.70 C510.03,1207.82 501.08,1221.12 493.30,1230.00 C485.52,1238.88 476.17,1244.32 470.00,1250.00 C463.83,1255.68 458.58,1261.75 456.30,1264.10" fill="none" stroke="#000" stroke-width="2.9" />
<path d="M583.60,1112.80 C583.33,1117.33 583.65,1129.75 582.00,1140.00 C580.35,1150.25 577.37,1164.00 573.70,1174.30 C570.03,1184.60 565.62,1192.35 560.00,1201.80 C554.38,1211.25 545.83,1223.13 540.00,1231.00 C534.17,1238.87 530.32,1243.00 525.00,1249.00 C519.68,1255.00 510.92,1264.00 508.10,1267.00" fill="none" stroke="#000" stroke-width="2.9" />
<path d="M600.30,1126.70 C600.17,1129.75 600.43,1137.78 599.50,1145.00 C598.57,1152.22 596.67,1161.90 594.70,1170.00 C592.73,1178.10 590.45,1186.13 587.70,1193.60 C584.95,1201.07 581.15,1209.32 578.20,1214.80 C575.25,1220.28 573.03,1222.63 570.00,1226.50 C566.97,1230.37 565.00,1232.25 560.00,1238.00 C555.00,1243.75 546.67,1253.25 540.00,1261.00 C533.33,1268.75 523.33,1280.58 520.00,1284.50" fill="none" stroke="#000" stroke-width="2.9" />
<path d="M639.00,1140.00 C638.17,1145.00 636.00,1159.17 634.00,1170.00 C632.00,1180.83 629.75,1195.17 627.00,1205.00 C624.25,1214.83 621.17,1221.50 617.50,1229.00 C613.83,1236.50 609.25,1243.50 605.00,1250.00 C600.75,1256.50 597.33,1261.50 592.00,1268.00 C586.67,1274.50 578.33,1283.92 573.00,1289.00 C567.67,1294.08 562.17,1296.92 560.00,1298.50" fill="none" stroke="#000" stroke-width="3.77" />
<path d="M652.50,1174.70 C652.30,1177.85 652.48,1186.53 651.30,1193.60 C650.12,1200.67 647.78,1210.20 645.40,1217.10 C643.02,1224.00 639.93,1229.52 637.00,1235.00 C634.07,1240.48 631.57,1243.80 627.80,1250.00 C624.03,1256.20 618.48,1266.40 614.40,1272.20 C610.32,1278.00 607.62,1280.10 603.30,1284.80 C598.98,1289.50 593.05,1295.87 588.50,1300.40 C583.95,1304.93 578.08,1310.07 576.00,1312.00" fill="none" stroke="#000" stroke-width="2.61" />
<path d="M664.20,1259.50 C662.67,1262.08 658.92,1268.92 655.00,1275.00 C651.08,1281.08 645.37,1289.83 640.70,1296.00 C636.03,1302.17 631.12,1306.88 627.00,1312.00 C622.88,1317.12 617.83,1324.25 616.00,1326.70" fill="none" stroke="#000" stroke-width="3.48" />
<path d="M533.80,1095.50 L546.50,1090.00 L556.00,1097.00 L556.00,1101.50 L540.00,1108.50 L533.80,1106.50 Z" fill="#fff" stroke="#000" stroke-width="2.61" />
<path d="M533.80,1095.50 L540.00,1097.50 L540.00,1108.50" fill="none" stroke="#000" stroke-width="2.03" />
<line x1="540.00" y1="1097.50" x2="552.00" y2="1092.00" stroke="#000" stroke-width="2.03" />
<path d="M435.60,1238.10 C442.27,1237.73 468.08,1236.02 475.60,1235.90 C483.12,1235.78 479.85,1237.15 480.70,1237.40" fill="none" stroke="#000" stroke-width="2.9" />
<path d="M470.00,1270.20 C479.57,1269.55 516.85,1266.70 527.40,1266.30 C537.95,1265.90 532.03,1266.90 533.30,1267.80 C534.57,1268.70 534.72,1271.05 535.00,1271.70" fill="none" stroke="#000" stroke-width="2.9" />
<path d="M548.90,972.20 C544.37,977.00 530.78,991.37 521.70,1001.00 C512.62,1010.63 501.72,1021.83 494.40,1030.00 C487.08,1038.17 483.90,1042.60 477.80,1050.00 C471.70,1057.40 464.28,1066.62 457.80,1074.40 C451.32,1082.18 444.83,1088.37 438.90,1096.70 C432.97,1105.03 426.45,1117.18 422.20,1124.40 C417.95,1131.62 416.60,1131.57 413.40,1140.00 C410.20,1148.43 405.78,1163.88 403.00,1175.00 C400.22,1186.12 397.38,1194.00 396.70,1206.70 C396.02,1219.40 396.87,1240.07 398.90,1251.20 C400.93,1262.33 406.05,1268.53 408.90,1273.50 C411.75,1278.47 414.82,1279.75 416.00,1281.00" fill="none" stroke="#000" stroke-width="2.9" />
<path d="M502.20,1034.40 C499.23,1037.93 490.32,1048.55 484.40,1055.60 C478.48,1062.65 472.43,1069.48 466.70,1076.70 C460.97,1083.92 455.57,1090.95 450.00,1098.90 C444.43,1106.85 437.55,1117.55 433.30,1124.40 C429.05,1131.25 427.88,1131.57 424.50,1140.00 C421.12,1148.43 416.33,1163.88 413.00,1175.00 C409.67,1186.12 405.55,1194.00 404.50,1206.70 C403.45,1219.40 404.67,1239.15 406.70,1251.20 C408.73,1263.25 412.82,1271.58 416.70,1279.00 C420.58,1286.42 425.00,1291.62 430.00,1295.70 C435.00,1299.78 438.37,1301.83 446.70,1303.50 C455.03,1305.17 470.50,1305.85 480.00,1305.70 C489.50,1305.55 498.52,1303.37 503.70,1302.60 C508.88,1301.83 509.87,1301.35 511.10,1301.10" fill="none" stroke="#000" stroke-width="4.21" />
<path d="M502.20,1066.70 C497.95,1070.95 484.10,1083.50 476.70,1092.20 C469.30,1100.90 462.80,1110.93 457.80,1118.90 C452.80,1126.87 450.33,1132.32 446.70,1140.00 C443.07,1147.68 438.78,1155.73 436.00,1165.00 C433.22,1174.27 431.18,1186.78 430.00,1195.60 C428.82,1204.42 428.33,1210.48 428.90,1217.90 C429.47,1225.32 431.17,1233.62 433.40,1240.10 C435.63,1246.58 438.22,1252.17 442.30,1256.80 C446.38,1261.43 451.62,1265.30 457.90,1267.90 C464.18,1270.50 472.62,1271.93 480.00,1272.40 C487.38,1272.87 498.50,1270.98 502.20,1270.70" fill="none" stroke="#000" stroke-width="4.21" />
<path d="M502.20,1034.40 C503.50,1035.88 508.33,1040.33 510.00,1043.30 C511.67,1046.27 512.02,1049.05 512.20,1052.20 C512.38,1055.35 512.02,1059.60 511.10,1062.20 C510.18,1064.80 508.18,1067.05 506.70,1067.80 C505.22,1068.55 502.95,1066.88 502.20,1066.70" fill="none" stroke="#000" stroke-width="4.21" />
<path d="M502.20,1270.70 C503.18,1271.32 506.37,1272.53 508.10,1274.40 C509.83,1276.27 511.60,1278.68 512.60,1281.90 C513.60,1285.12 514.35,1290.50 514.10,1293.70 C513.85,1296.90 511.60,1299.87 511.10,1301.10" fill="none" stroke="#000" stroke-width="4.21" />
<path d="M408.90,1262.40 C410.08,1263.67 413.22,1267.60 416.00,1270.00 C418.78,1272.40 424.00,1275.67 425.60,1276.80" fill="none" stroke="#000" stroke-width="2.61" />
<line x1="369.00" y1="988.20" x2="457.80" y2="980.70" stroke="#000" stroke-width="2.9" />
<line x1="372.00" y1="1024.80" x2="431.00" y2="1019.50" stroke="#000" stroke-width="2.9" />
<ellipse cx="367.00" cy="1006.50" rx="12.50" ry="17.40" fill="#fff" stroke="#000" stroke-width="3.96" transform="rotate(-12 367.00 1006.50)"/>
<line x1="422.00" y1="1019.30" x2="513.10" y2="1010.20" stroke="#000" stroke-width="2.9" />
<path d="M426.00,1055.50 C432.40,1054.87 455.40,1053.73 464.40,1051.70 C473.40,1049.67 475.92,1046.37 480.00,1043.30 C484.08,1040.23 487.42,1034.97 488.90,1033.30" fill="none" stroke="#000" stroke-width="2.9" />
<ellipse cx="420.00" cy="1037.80" rx="12.60" ry="17.30" fill="#fff" stroke="#000" stroke-width="3.96" transform="rotate(-12 420.00 1037.80)"/>
<line x1="427.80" y1="1016.80" x2="495.60" y2="941.10" stroke="#000" stroke-width="2.9" />
<path d="M495.60,941.10 C496.33,940.98 497.67,939.53 500.00,940.40 C502.33,941.27 506.43,943.53 509.60,946.30 C512.77,949.07 516.65,953.67 519.00,957.00 C521.35,960.33 522.92,964.75 523.70,966.30" fill="none" stroke="#000" stroke-width="2.9" />
<line x1="523.70" y1="966.30" x2="483.50" y2="1010.50" stroke="#000" stroke-width="2.9" />
<line x1="496.50" y1="996.00" x2="513.50" y2="1006.50" stroke="#000" stroke-width="1.89" />
<line x1="496.50" y1="996.00" x2="511.50" y2="1009.50" stroke="#000" stroke-width="1.89" />
<path d="M548.90,972.20 C550.02,972.13 552.77,970.68 555.60,971.80 C558.43,972.92 562.92,975.95 565.90,978.90 C568.88,981.85 571.77,986.30 573.50,989.50 C575.23,992.70 575.83,996.67 576.30,998.10" fill="none" stroke="#000" stroke-width="2.9" />
<line x1="576.30" y1="998.10" x2="535.00" y2="1041.50" stroke="#000" stroke-width="2.9" />
<line x1="551.50" y1="1027.00" x2="566.50" y2="1040.50" stroke="#000" stroke-width="1.89" />
<line x1="551.50" y1="1027.00" x2="563.00" y2="1041.50" stroke="#000" stroke-width="1.89" />
<line x1="544.20" y1="1062.80" x2="603.30" y2="1002.20" stroke="#000" stroke-width="2.9" />
<path d="M603.30,1002.20 C604.42,1002.13 607.22,1000.83 610.00,1001.80 C612.78,1002.77 617.08,1005.30 620.00,1008.00 C622.92,1010.70 625.83,1014.70 627.50,1018.00 C629.17,1021.30 629.58,1026.17 630.00,1027.80" fill="none" stroke="#000" stroke-width="2.9" />
<line x1="630.00" y1="1027.80" x2="596.50" y2="1071.50" stroke="#000" stroke-width="2.9" />
<line x1="604.40" y1="1056.00" x2="620.50" y2="1068.00" stroke="#000" stroke-width="1.89" />
<line x1="604.40" y1="1056.00" x2="617.00" y2="1071.00" stroke="#000" stroke-width="1.89" />
<line x1="604.40" y1="1092.00" x2="656.70" y2="1033.30" stroke="#000" stroke-width="2.9" />
<path d="M656.70,1033.30 C657.75,1033.25 660.28,1032.05 663.00,1033.00 C665.72,1033.95 670.08,1036.33 673.00,1039.00 C675.92,1041.67 678.97,1045.68 680.50,1049.00 C682.03,1052.32 681.92,1057.25 682.20,1058.90" fill="none" stroke="#000" stroke-width="2.9" />
<line x1="682.20" y1="1058.90" x2="649.00" y2="1102.50" stroke="#000" stroke-width="2.9" />
<line x1="656.00" y1="1086.00" x2="673.30" y2="1100.50" stroke="#000" stroke-width="1.89" />
<line x1="656.00" y1="1086.00" x2="669.00" y2="1102.50" stroke="#000" stroke-width="1.89" />
<line x1="526.50" y1="1042.50" x2="564.00" y2="1040.00" stroke="#000" stroke-width="2.9" />
<line x1="579.40" y1="1074.00" x2="618.30" y2="1071.10" stroke="#000" stroke-width="2.9" />
<ellipse cx="528.40" cy="1062.80" rx="10.00" ry="17.00" fill="#fff" stroke="#000" stroke-width="3.96" transform="rotate(-18 528.40 1062.80)"/>
<ellipse cx="554.40" cy="1081.20" rx="10.00" ry="17.00" fill="#fff" stroke="#000" stroke-width="3.96" transform="rotate(-18 554.40 1081.20)"/>
<ellipse cx="581.20" cy="1093.70" rx="10.00" ry="17.00" fill="#fff" stroke="#000" stroke-width="3.96" transform="rotate(-18 581.20 1093.70)"/>
<ellipse cx="607.60" cy="1111.70" rx="10.00" ry="17.00" fill="#fff" stroke="#000" stroke-width="3.96" transform="rotate(-18 607.60 1111.70)"/>
<ellipse cx="634.30" cy="1123.60" rx="10.00" ry="17.00" fill="#fff" stroke="#000" stroke-width="3.96" transform="rotate(-18 634.30 1123.60)"/>
<line x1="633.30" y1="1104.50" x2="679.30" y2="1102.20" stroke="#000" stroke-width="2.9" />
<path d="M679.30,1102.20 C683.00,1103.43 694.60,1105.65 701.50,1109.60 C708.40,1113.55 715.52,1120.47 720.70,1125.90 C725.88,1131.33 729.63,1138.00 732.60,1142.20 C735.57,1146.40 737.52,1149.62 738.50,1151.10" fill="none" stroke="#000" stroke-width="2.9" />
<path d="M646.70,1125.90 C654.10,1125.65 680.23,1123.90 691.10,1124.40 C701.97,1124.90 705.97,1126.67 711.90,1128.90 C717.83,1131.13 722.52,1134.35 726.70,1137.80 C730.88,1141.25 735.28,1147.63 737.00,1149.60" fill="none" stroke="#000" stroke-width="2.9" />
<ellipse cx="634.30" cy="1123.60" rx="10.00" ry="17.00" fill="#fff" stroke="#000" stroke-width="3.96" transform="rotate(-18 634.30 1123.60)"/>
<ellipse cx="745.90" cy="1157.00" rx="8.10" ry="5.90" fill="#fff" stroke="#000" stroke-width="3.36" transform="rotate(-10 745.90 1157.00)"/>
<ellipse cx="746.30" cy="1156.50" rx="3.60" ry="2.00" fill="none" stroke="#000" stroke-width="2.1" transform="rotate(-10 746.30 1156.50)"/>
<path d="M719.30,1160.70 L734.10,1152.60 L726.70,1167.40 Z" fill="none" stroke="#000" stroke-width="2.9" />
<line x1="738.50" y1="1174.80" x2="754.80" y2="1160.00" stroke="#000" stroke-width="2.9" />
<line x1="747.40" y1="1168.90" x2="750.40" y2="1191.10" stroke="#000" stroke-width="2.32" />
<path d="M651,1158 C653,1150 657,1143 661,1138 C664,1134 666,1134 667,1137 C670,1133 674,1130 677,1130.5 C680,1131 680,1135 677,1138 C673,1142 668,1145 664,1147 C660,1150 656,1154 652,1159 Z" fill="#000" stroke="#000" stroke-width="1.68" />
<line x1="648.90" y1="1127.00" x2="648.90" y2="1171.90" stroke="#000" stroke-width="2.9" />
<path d="M649.60,1171.90 C652.07,1170.42 658.22,1165.10 664.40,1163.00 C670.58,1160.90 679.28,1159.30 686.70,1159.30 C694.12,1159.30 702.73,1161.40 708.90,1163.00 C715.07,1164.60 718.77,1166.93 723.70,1168.90 C728.63,1170.87 736.03,1173.82 738.50,1174.80" fill="none" stroke="#000" stroke-width="2.9" />
<path d="M661.50,1172.50 C664.95,1171.17 675.28,1165.50 682.20,1164.50 C689.12,1163.50 697.03,1165.25 703.00,1166.50 C708.97,1167.75 715.50,1171.08 718.00,1172.00" fill="none" stroke="#000" stroke-width="2.32" />
<line x1="649.60" y1="1171.90" x2="678.50" y2="1185.50" stroke="#000" stroke-width="2.9" />
<path d="M678.50,1185.50 C681.58,1183.97 690.70,1178.45 697.00,1176.30 C703.30,1174.15 709.87,1172.35 716.30,1172.60 C722.73,1172.85 730.67,1174.97 735.60,1177.80 C740.53,1180.63 743.18,1184.92 745.90,1189.60 C748.62,1194.28 750.53,1199.48 751.90,1205.90 C753.27,1212.32 753.87,1219.63 754.10,1228.10 C754.33,1236.57 754.67,1248.98 753.30,1256.70 C751.93,1264.42 749.60,1267.98 745.90,1274.40 C742.20,1280.82 734.80,1291.00 731.10,1295.20 C727.40,1299.40 724.93,1298.87 723.70,1299.60" fill="none" stroke="#000" stroke-width="3.48" />
<path d="M738.50,1180.70 C739.98,1183.18 745.42,1190.17 747.40,1195.60 C749.38,1201.03 749.97,1206.23 750.40,1213.30 C750.83,1220.37 751.07,1230.28 750.00,1238.00 C748.93,1245.72 746.33,1252.78 744.00,1259.60 C741.67,1266.42 738.83,1272.97 736.00,1278.90 C733.17,1284.83 728.50,1292.48 727.00,1295.20" fill="none" stroke="#000" stroke-width="2.32" />
<path d="M663.70,1256.80 L663.70,1192.90 L667.50,1190.50 L672.00,1192.90 L672.00,1252.00" fill="none" stroke="#000" stroke-width="2.9" />
<path d="M668,1185 L671.5,1184 L672.5,1192 L669,1193 Z" fill="#000" stroke="#000" stroke-width="1.4" />
<line x1="674.70" y1="1186.70" x2="674.70" y2="1281.50" stroke="#000" stroke-width="3.19" />
<path d="M697.00,1278.90 L708.90,1272.20 L721.50,1274.40 L703.00,1286.30 Z" fill="#fff" stroke="#000" stroke-width="2.61" />
<line x1="699.50" y1="1279.00" x2="700.50" y2="1292.00" stroke="#000" stroke-width="3.77" />
<path d="M676.30,1281.10 C677.53,1280.37 680.25,1277.32 683.70,1276.70 C687.15,1276.08 694.78,1277.28 697.00,1277.40" fill="none" stroke="#000" stroke-width="2.9" />
<line x1="674.10" y1="1282.60" x2="711.90" y2="1307.00" stroke="#000" stroke-width="2.9" />
<path d="M711.90,1307.00 C713.87,1305.77 720.25,1300.83 723.70,1299.60 C727.15,1298.37 730.13,1298.12 732.60,1299.60 C735.07,1301.08 737.52,1305.28 738.50,1308.50 C739.48,1311.72 739.48,1315.20 738.50,1318.90 C737.52,1322.60 735.57,1326.75 732.60,1330.70 C729.63,1334.65 724.15,1339.13 720.70,1342.60 C717.25,1346.07 713.37,1350.02 711.90,1351.50" fill="none" stroke="#000" stroke-width="3.48" />
<line x1="695.60" y1="1298.10" x2="695.60" y2="1342.60" stroke="#000" stroke-width="2.9" />
<line x1="695.60" y1="1342.60" x2="711.90" y2="1351.50" stroke="#000" stroke-width="2.9" />
<path d="M697.80,1336.70 C700.63,1333.73 711.47,1324.33 714.80,1318.90 C718.13,1313.47 717.30,1306.57 717.80,1304.10" fill="none" stroke="#000" stroke-width="2.32" />
<path d="M678.10,1285.60 C675.58,1288.82 668.03,1298.72 663.00,1304.90 C657.97,1311.08 650.42,1319.73 647.90,1322.70" fill="none" stroke="#000" stroke-width="2.61" />
<path d="M683.00,1289.00 C680.83,1291.83 674.67,1300.33 670.00,1306.00 C665.33,1311.67 657.50,1320.17 655.00,1323.00" fill="none" stroke="#000" stroke-width="2.03" />
<line x1="649.60" y1="1363.30" x2="704.40" y2="1375.90" stroke="#000" stroke-width="2.9" />
<path d="M704.40,1375.90 C707.62,1373.80 718.27,1367.87 723.70,1363.30 C729.13,1358.73 734.53,1353.43 737.00,1348.50 C739.47,1343.57 738.25,1336.17 738.50,1333.70" fill="none" stroke="#000" stroke-width="2.9" />
<path d="M649.60,1360.40 C653.07,1358.42 663.23,1352.95 670.40,1348.50 C677.57,1344.05 688.90,1336.17 692.60,1333.70" fill="none" stroke="#000" stroke-width="2.32" />
<line x1="649.60" y1="1324.80" x2="649.60" y2="1382.60" stroke="#000" stroke-width="2.9" />
<line x1="649.60" y1="1324.80" x2="676.30" y2="1342.60" stroke="#000" stroke-width="3.77" />
<path d="M668.90,1330.00 L673.00,1327.00 L691.10,1336.50 L691.10,1344.60 L684.00,1347.00 L668.90,1338.00 Z" fill="#fff" stroke="#000" stroke-width="2.32" />
<path d="M553.30,1299.50 C558.48,1299.22 578.28,1297.72 584.40,1297.80 C590.52,1297.88 589.07,1299.63 590.00,1300.00" fill="none" stroke="#000" stroke-width="2.9" />
<path d="M606.70,1330.00 C611.52,1329.45 629.88,1326.87 635.60,1326.70 C641.32,1326.53 640.10,1328.62 641.00,1329.00" fill="none" stroke="#000" stroke-width="2.9" />
<ellipse cx="528.90" cy="1305.60" rx="10.00" ry="17.00" fill="#fff" stroke="#000" stroke-width="3.96" transform="rotate(-18 528.90 1305.60)"/>
<ellipse cx="554.40" cy="1315.60" rx="10.00" ry="17.00" fill="#fff" stroke="#000" stroke-width="3.96" transform="rotate(-18 554.40 1315.60)"/>
<ellipse cx="581.10" cy="1335.60" rx="10.00" ry="17.00" fill="#fff" stroke="#000" stroke-width="3.96" transform="rotate(-18 581.10 1335.60)"/>
<ellipse cx="607.80" cy="1347.80" rx="10.00" ry="17.00" fill="#fff" stroke="#000" stroke-width="3.96" transform="rotate(-18 607.80 1347.80)"/>
<ellipse cx="633.30" cy="1365.60" rx="10.00" ry="17.00" fill="#fff" stroke="#000" stroke-width="3.96" transform="rotate(-18 633.30 1365.60)"/>
<line x1="353.30" y1="1290.00" x2="375.60" y2="1266.70" stroke="#000" stroke-width="2.9" />
<line x1="381.10" y1="1315.60" x2="411.10" y2="1283.30" stroke="#000" stroke-width="2.9" />
<ellipse cx="366.70" cy="1303.30" rx="19.50" ry="8.20" fill="#fff" stroke="#000" stroke-width="3.08" transform="rotate(40 366.70 1303.30)"/>
<ellipse cx="367.70" cy="1304.30" rx="16.00" ry="6.20" fill="none" stroke="#000" stroke-width="1.96" transform="rotate(40 367.70 1304.30)"/>
<line x1="406.20" y1="1320.00" x2="428.90" y2="1297.80" stroke="#000" stroke-width="2.9" />
<line x1="434.40" y1="1346.70" x2="468.90" y2="1308.90" stroke="#000" stroke-width="2.9" />
<ellipse cx="420.00" cy="1334.00" rx="19.50" ry="8.20" fill="#fff" stroke="#000" stroke-width="3.08" transform="rotate(40 420.00 1334.00)"/>
<ellipse cx="421.00" cy="1335.00" rx="16.00" ry="6.20" fill="none" stroke="#000" stroke-width="1.96" transform="rotate(40 421.00 1335.00)"/>
</svg>
</body></html>
